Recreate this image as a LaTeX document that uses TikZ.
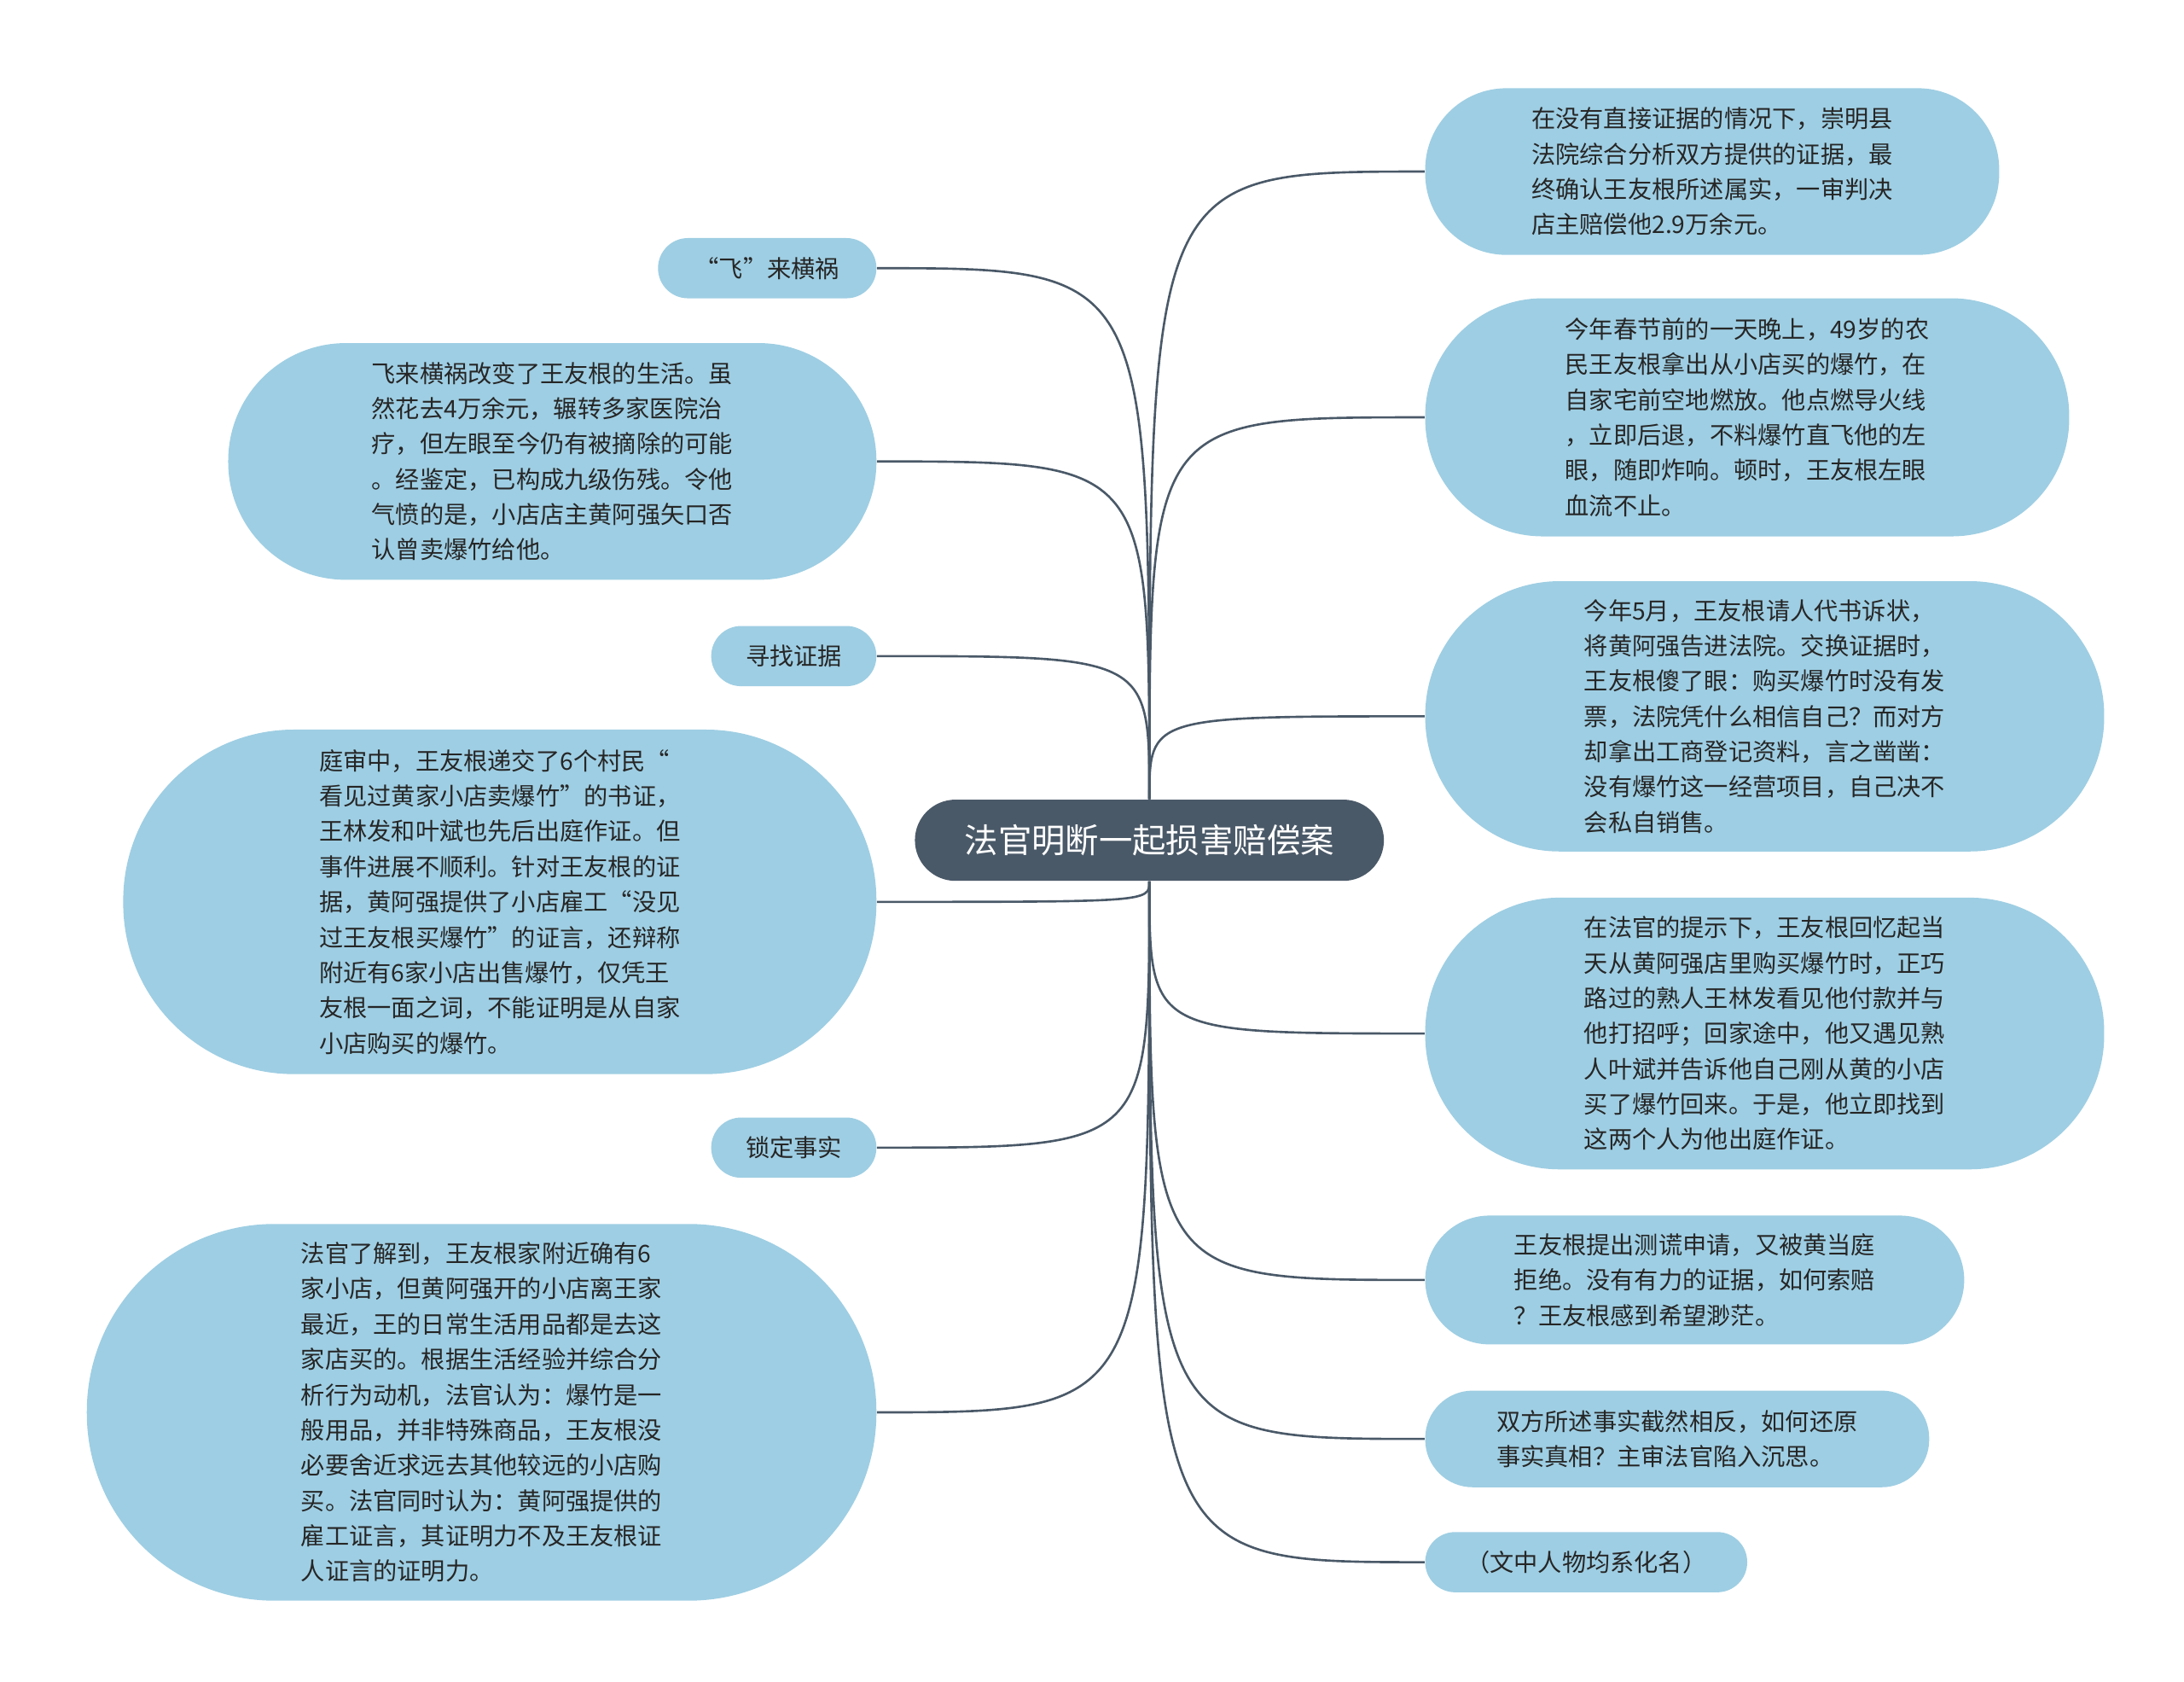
\documentclass[tikz,border=0pt]{standalone}
\usepackage{fontspec}
\setmainfont{Noto Sans CJK SC}
\usetikzlibrary{backgrounds}
\definecolor{leafblue}{RGB}{158,206,227}
\definecolor{slate}{RGB}{74,89,104}
\tikzset{
  leaf/.style={fill=leafblue, draw=none, align=left, inner sep=0pt,
    font=\fontsize{8.6}{12.6}\selectfont, text=black!85},
  rootbox/.style={fill=slate, text=white, rounded corners=14.5pt,
    minimum width=167.5pt, minimum height=29pt, font=\fontsize{12}{14}\selectfont},
  link/.style={draw=slate, line width=0.8pt}
}
\begin{document}
\begin{tikzpicture}[x=0.5pt,y=-0.5pt]
\useasboundingbox (0,0) rectangle (1560,1201);

% centre
\node[rootbox] (root) at (821,600) {法官明断一起损害赔偿案};

% right side
\node[leaf, minimum width=205pt, minimum height=59.5pt, rounded corners=29pt] (r1) at (1223,122.5)
  {在没有直接证据的情况下，崇明县\\法院综合分析双方提供的证据，最\\终确认王友根所述属实，一审判决\\店主赔偿他2.9万余元。};
\node[leaf, minimum width=230pt, minimum height=85pt, rounded corners=42pt] (r2) at (1248,298)
  {今年春节前的一天晚上，49岁的农\\民王友根拿出从小店买的爆竹，在\\自家宅前空地燃放。他点燃导火线\\，立即后退，不料爆竹直飞他的左\\眼，随即炸响。顿时，王友根左眼\\血流不止。};
\node[leaf, minimum width=242.5pt, minimum height=96.5pt, rounded corners=48pt] (r3) at (1260.5,511.5)
  {今年5月，王友根请人代书诉状，\\将黄阿强告进法院。交换证据时，\\王友根傻了眼：购买爆竹时没有发\\票，法院凭什么相信自己？而对方\\却拿出工商登记资料，言之凿凿：\\没有爆竹这一经营项目，自己决不\\会私自销售。};
\node[leaf, minimum width=242.5pt, minimum height=97pt, rounded corners=48pt] (r4) at (1260.5,738)
  {在法官的提示下，王友根回忆起当\\天从黄阿强店里购买爆竹时，正巧\\路过的熟人王林发看见他付款并与\\他打招呼；回家途中，他又遇见熟\\人叶斌并告诉他自己刚从黄的小店\\买了爆竹回来。于是，他立即找到\\这两个人为他出庭作证。};
\node[leaf, minimum width=192.5pt, minimum height=46pt, rounded corners=23pt] (r5) at (1210.5,914)
  {王友根提出测谎申请，又被黄当庭\\拒绝。没有有力的证据，如何索赔\\？王友根感到希望渺茫。};
\node[leaf, minimum width=180pt, minimum height=34.5pt, rounded corners=17pt] (r6) at (1198,1027.5)
  {双方所述事实截然相反，如何还原\\事实真相？主审法官陷入沉思。};
\node[leaf, minimum width=115pt, minimum height=21.5pt, rounded corners=10.7pt] (r7) at (1133,1115.5)
  {（文中人物均系化名）};

% left side
\node[leaf, minimum width=78pt, minimum height=21.5pt, rounded corners=10.7pt] (l1) at (548,191.5)
  {“飞”来横祸};
\node[leaf, minimum width=231.5pt, minimum height=84.5pt, rounded corners=42pt] (l2) at (394.5,329.5)
  {飞来横祸改变了王友根的生活。虽\\然花去4万余元，辗转多家医院治\\疗，但左眼至今仍有被摘除的可能\\。经鉴定，已构成九级伤残。令他\\气愤的是，小店店主黄阿强矢口否\\认曾卖爆竹给他。};
\node[leaf, minimum width=59pt, minimum height=21.5pt, rounded corners=10.7pt] (l3) at (567,468.5)
  {寻找证据};
\node[leaf, minimum width=269pt, minimum height=123pt, rounded corners=61pt] (l4) at (357,644)
  {庭审中，王友根递交了6个村民“\\看见过黄家小店卖爆竹”的书证，\\王林发和叶斌也先后出庭作证。但\\事件进展不顺利。针对王友根的证\\据，黄阿强提供了小店雇工“没见\\过王友根买爆竹”的证言，还辩称\\附近有6家小店出售爆竹，仅凭王\\友根一面之词，不能证明是从自家\\小店购买的爆竹。};
\node[leaf, minimum width=59pt, minimum height=21.5pt, rounded corners=10.7pt] (l5) at (567,819.5)
  {锁定事实};
\node[leaf, minimum width=282pt, minimum height=134.5pt, rounded corners=67pt] (l6) at (344,1008.5)
  {法官了解到，王友根家附近确有6\\家小店，但黄阿强开的小店离王家\\最近，王的日常生活用品都是去这\\家店买的。根据生活经验并综合分\\析行为动机，法官认为：爆竹是一\\般用品，并非特殊商品，王友根没\\必要舍近求远去其他较远的小店购\\买。法官同时认为：黄阿强提供的\\雇工证言，其证明力不及王友根证\\人证言的证明力。};

% links
\begin{scope}[on background layer]
\foreach \n/\y in {r1/122.5,r2/298,r3/511.5}
  \draw[link] (root.north) .. controls (821,\y) .. (\n.west);
\foreach \n/\y in {r4/738,r5/914,r6/1027.5,r7/1115.5}
  \draw[link] (root.south) .. controls (821,\y) .. (\n.west);
\foreach \n/\y in {l1/191.5,l2/329.5,l3/468.5}
  \draw[link] (root.north) .. controls (821,\y) .. (\n.east);
\foreach \n/\y in {l4/644,l5/819.5,l6/1008.5}
  \draw[link] (root.south) .. controls (821,\y) .. (\n.east);
\end{scope}
\end{tikzpicture}
\end{document}
